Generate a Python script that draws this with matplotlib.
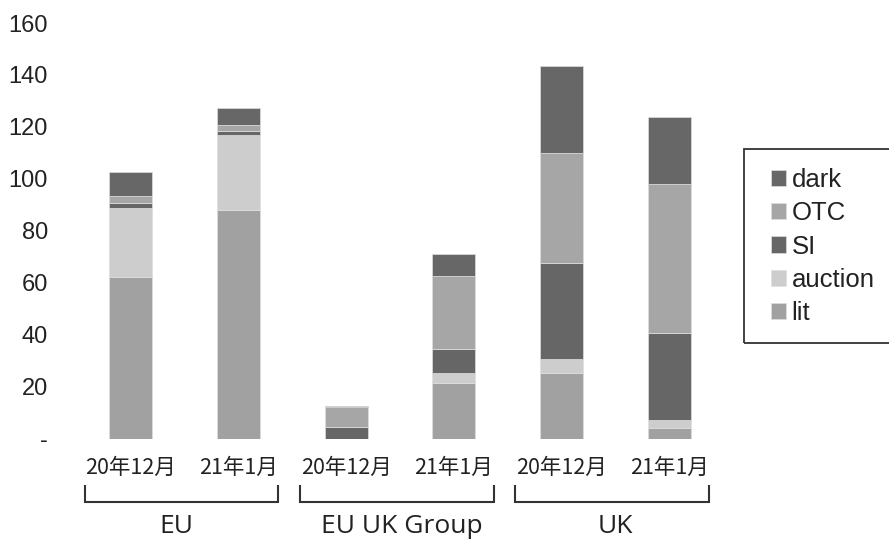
import matplotlib
matplotlib.use("Agg")
import matplotlib.pyplot as plt
from matplotlib.patches import Rectangle
import matplotlib.transforms as mtransforms
import numpy as np

categories = ['20年12月', '21年1月', '20年12月', '21年1月', '20年12月', '21年1月']
groups = ['EU', 'EU UK Group', 'UK']
lit = [62.2, 87.9, 0.0, 21.5, 25.3, 4.2]
auction = [26.7, 28.9, 0.0, 3.8, 5.2, 2.9]
SI = [1.8, 1.5, 4.5, 9.1, 37.1, 33.6]
OTC = [2.7, 2.3, 7.7, 28.1, 42.3, 57.2]
dark = [9.2, 6.6, 0.4, 8.7, 33.4, 25.9]
yticks = [0, 20, 40, 60, 80, 100, 120, 140, 160]
ytick_labels = ['-', '20', '40', '60', '80', '100', '120', '140', '160']

series = [('lit', lit, '#a1a1a1'), ('auction', auction, '#cdcdcd'),
          ('SI', SI, '#666666'), ('OTC', OTC, '#a6a6a6'), ('dark', dark, '#676767')]

fig = plt.figure(figsize=(8.89, 5.39), dpi=100)
W, H = 889, 539
ax = fig.add_axes([77 / W, 1 - 438.5 / H, (723 - 77) / W, (438.5 - 23) / H])

x = np.arange(len(categories))
bottom = np.zeros(len(categories))
handles = {}
for name, vals, col in series:
    v = np.array(vals)
    b = ax.bar(x, v, 0.4, bottom=bottom, color=col, edgecolor='#dedede', linewidth=0.5, label=name)
    handles[name] = b
    bottom += v

ax.set_xlim(-0.5, 5.5)
ax.set_ylim(0, 160)
for s in ax.spines.values():
    s.set_visible(False)
ax.set_yticks(yticks)
ax.set_yticklabels(ytick_labels, fontsize=17, family=['Liberation Sans', 'DejaVu Sans'], color='#222222')
ax.tick_params(axis='y', length=0, pad=21)
ax.set_xticks(x)
ax.set_xticklabels(categories, fontsize=15.5, family=['Noto Sans CJK SC', 'DejaVu Sans'], color='#222222')
ax.tick_params(axis='x', length=0, pad=13)

# group brackets
trans = mtransforms.blended_transform_factory(ax.transData, ax.transAxes)
y_top, y_bot = -0.1136, -0.1528
label_pos = [0.42, 2.52, 4.5]
label_y = (438.5 - 533) / 415.5
for gi, g in enumerate(groups):
    x0 = 2 * gi - 0.43
    x1 = 2 * gi + 1.37
    ax.plot([x0, x0, x1, x1], [y_top, y_bot, y_bot, y_top], transform=trans,
            color='#333333', lw=1.5, clip_on=False, solid_joinstyle='miter')
    ax.text(label_pos[gi], label_y, g, transform=trans, ha='center', va='baseline',
            fontsize=19, family=['Open Sans', 'DejaVu Sans'], color='#222222')

# legend
order = ['dark', 'OTC', 'SI', 'auction', 'lit']
leg = fig.legend([handles[k] for k in order], order, loc='upper left',
                 bbox_to_anchor=(771 / W, 1 - 168 / H), frameon=False,
                 prop={'family': ['Liberation Sans', 'DejaVu Sans'], 'size': 18.5},
                 handlelength=0.6, handleheight=0.6, handletextpad=0.2,
                 labelspacing=0.36, borderpad=0, borderaxespad=0)
for t in leg.get_texts():
    t.set_color('#222222')
fig.patches.append(Rectangle((744 / W, 1 - 343 / H), (900 - 744) / W, (343 - 149) / H,
                             transform=fig.transFigure, fill=False,
                             edgecolor='#333333', lw=1.3))

fig.savefig('out.png', dpi=100)
